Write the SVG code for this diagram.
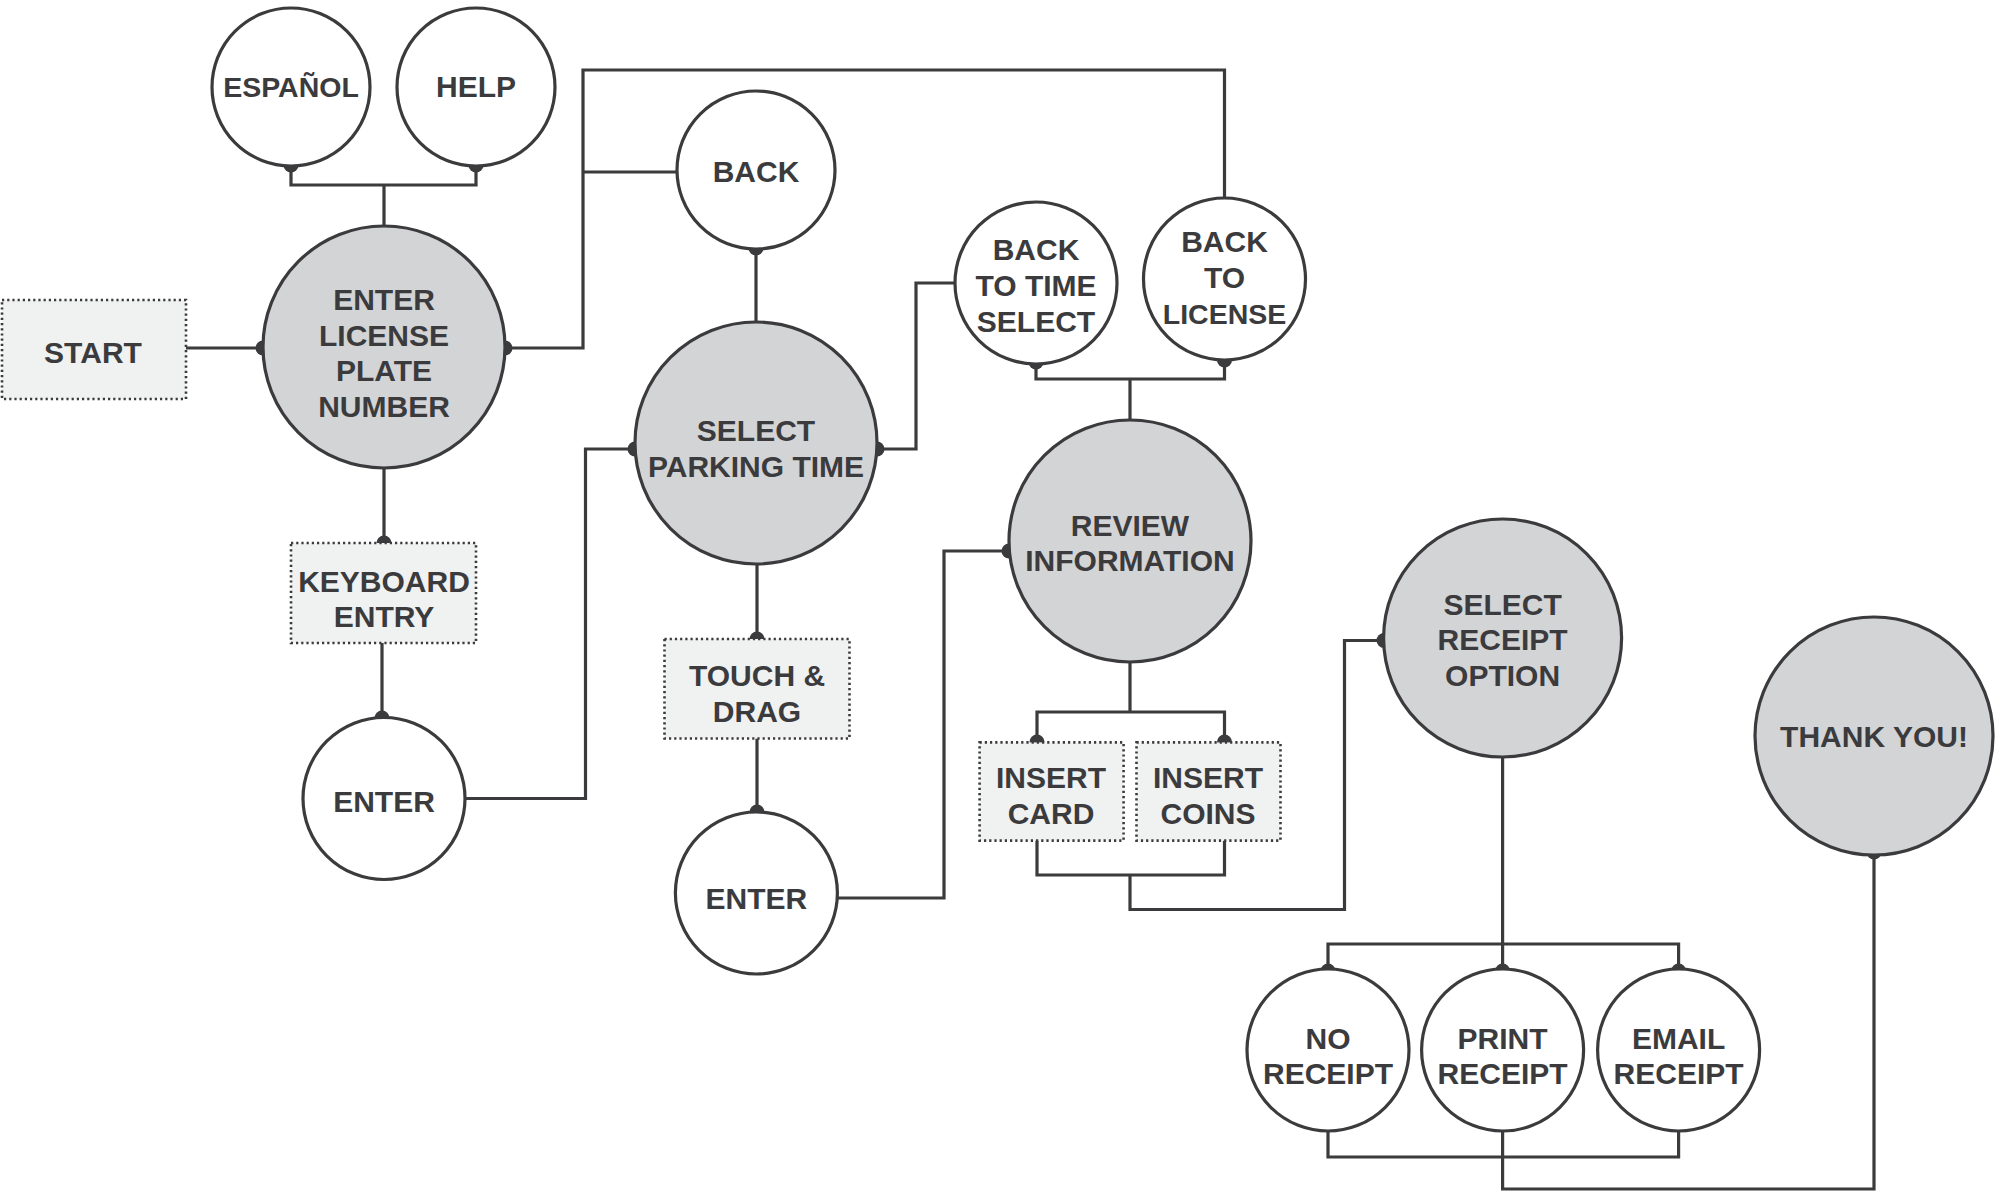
<svg xmlns="http://www.w3.org/2000/svg" width="2000" height="1193" viewBox="0 0 2000 1193">
<style>
.w{fill:#ffffff;stroke:#3b3b3d;stroke-width:3.2}
.g{fill:#d3d4d6;stroke:#3b3b3d;stroke-width:3.2}
.b{fill:#f0f1f1;stroke:#3b3b3d;stroke-width:2.6;stroke-dasharray:2.2 3}
.t{font-family:"Liberation Sans","Open Sans",sans-serif;font-weight:bold;font-size:30px;fill:#3b3b3d;text-anchor:middle}
.s{font-size:28.5px}
.c{fill:none;stroke:#3b3b3d;stroke-width:3.2}
.d{fill:#3b3b3d}
</style>
<rect width="2000" height="1193" fill="#ffffff"/>
<g id="connectors">
<path class="c" d="M291,165 V185 H476 V165 M384,185 V226"/>
<path class="c" d="M186,348 H263"/>
<path class="c" d="M505,348 H583 V70 H1224.5 V198 M583,172 H677"/>
<path class="c" d="M756,248 V322"/>
<path class="c" d="M384,468 V543 M382,643 V718"/>
<path class="c" d="M635,449 H585.5 V798.5 H465"/>
<path class="c" d="M877,449 H916 V283 H955"/>
<path class="c" d="M1036,362 V379 H1224.5 V360 M1130,379 V420"/>
<path class="c" d="M757,564 V639 M757,738.5 V812"/>
<path class="c" d="M1009,551 H944 V898 H837"/>
<path class="c" d="M1130,662 V712 M1037,742 V712 H1224.5 V742"/>
<path class="c" d="M1037,840.6 V875 H1224.5 V840.6 M1130,875 V909.5 H1344.5 V640.5 H1384"/>
<path class="c" d="M1502.6,757 V969 M1328,969 V944 H1678.6 V969"/>
<path class="c" d="M1328,1131 V1157 H1678.6 V1131 M1502.6,1131 V1189 H1874 V852"/>
<circle class="d" cx="291" cy="165" r="7.5"/>
<circle class="d" cx="476" cy="165" r="7.5"/>
<circle class="d" cx="263" cy="348" r="7.5"/>
<circle class="d" cx="505" cy="348" r="7.5"/>
<circle class="d" cx="756" cy="248" r="7.5"/>
<circle class="d" cx="384" cy="543" r="7.5"/>
<circle class="d" cx="382" cy="718" r="7.5"/>
<circle class="d" cx="635" cy="449" r="7.5"/>
<circle class="d" cx="877" cy="449" r="7.5"/>
<circle class="d" cx="1036" cy="362" r="7.5"/>
<circle class="d" cx="1224.5" cy="360" r="7.5"/>
<circle class="d" cx="757" cy="639" r="7.5"/>
<circle class="d" cx="757" cy="812" r="7.5"/>
<circle class="d" cx="1009" cy="551" r="7.5"/>
<circle class="d" cx="1037" cy="742" r="7.5"/>
<circle class="d" cx="1224.5" cy="742" r="7.5"/>
<circle class="d" cx="1384" cy="640.5" r="7.5"/>
<circle class="d" cx="1328" cy="971" r="7.5"/>
<circle class="d" cx="1502.6" cy="971" r="7.5"/>
<circle class="d" cx="1678.6" cy="971" r="7.5"/>
<circle class="d" cx="1874" cy="852" r="7.5"/>
</g>
<g id="espanol"><circle class="w" cx="291" cy="87" r="79"/><text class="t s" x="291" y="97">ESPAÑOL</text></g>
<g id="help"><circle class="w" cx="476" cy="87" r="79"/><text class="t" x="476" y="97">HELP</text></g>
<g id="start"><rect class="b" x="2" y="300" width="184" height="99"/><text class="t" x="93" y="363">START</text></g>
<g id="enter-license"><circle class="g" cx="384" cy="347" r="121"/><text class="t" x="384" y="309.5">ENTER</text><text class="t" x="384" y="345.5">LICENSE</text><text class="t" x="384" y="381">PLATE</text><text class="t" x="384" y="416.5">NUMBER</text></g>
<g id="back"><circle class="w" cx="756" cy="170" r="79"/><text class="t" x="756" y="182">BACK</text></g>
<g id="keyboard-entry"><rect class="b" x="291" y="543" width="185" height="100"/><text class="t" x="384" y="591.5">KEYBOARD</text><text class="t" x="384" y="627">ENTRY</text></g>
<g id="enter-1"><circle class="w" cx="384" cy="798.5" r="81"/><text class="t" x="384" y="812">ENTER</text></g>
<g id="select-parking"><circle class="g" cx="756" cy="443" r="121"/><text class="t" x="756" y="441">SELECT</text><text class="t" x="756" y="477">PARKING TIME</text></g>
<g id="touch-drag"><rect class="b" x="664.5" y="639" width="185" height="99.5"/><text class="t" x="757" y="686">TOUCH &amp;</text><text class="t" x="757" y="722">DRAG</text></g>
<g id="enter-2"><circle class="w" cx="756.4" cy="893" r="81"/><text class="t" x="756.4" y="909">ENTER</text></g>
<g id="back-time"><circle class="w" cx="1036" cy="283" r="81"/><text class="t" x="1036" y="260">BACK</text><text class="t" x="1036" y="296">TO TIME</text><text class="t" x="1036" y="332">SELECT</text></g>
<g id="back-license"><circle class="w" cx="1224.5" cy="279" r="81"/><text class="t" x="1224.5" y="252">BACK</text><text class="t" x="1224.5" y="288">TO</text><text class="t s" x="1224.5" y="324">LICENSE</text></g>
<g id="review"><circle class="g" cx="1130" cy="541" r="121"/><text class="t" x="1130" y="535.5">REVIEW</text><text class="t" x="1130" y="571">INFORMATION</text></g>
<g id="insert-card"><rect class="b" x="979.6" y="742.4" width="144" height="98.2"/><text class="t" x="1051" y="788">INSERT</text><text class="t" x="1051" y="824">CARD</text></g>
<g id="insert-coins"><rect class="b" x="1136.5" y="742.4" width="144" height="98.2"/><text class="t" x="1208" y="788">INSERT</text><text class="t" x="1208" y="824">COINS</text></g>
<g id="select-receipt"><circle class="g" cx="1502.6" cy="638" r="119"/><text class="t" x="1502.6" y="614.5">SELECT</text><text class="t" x="1502.6" y="650">RECEIPT</text><text class="t" x="1502.6" y="686">OPTION</text></g>
<g id="thank-you"><circle class="g" cx="1874" cy="736" r="119"/><text class="t" x="1874" y="747">THANK YOU!</text></g>
<g id="no-receipt"><circle class="w" cx="1328" cy="1050" r="81"/><text class="t" x="1328" y="1048.5">NO</text><text class="t" x="1328" y="1084">RECEIPT</text></g>
<g id="print-receipt"><circle class="w" cx="1502.6" cy="1050" r="81"/><text class="t" x="1502.6" y="1048.5">PRINT</text><text class="t" x="1502.6" y="1084">RECEIPT</text></g>
<g id="email-receipt"><circle class="w" cx="1678.6" cy="1050" r="81"/><text class="t" x="1678.6" y="1048.5">EMAIL</text><text class="t" x="1678.6" y="1084">RECEIPT</text></g>
</svg>
